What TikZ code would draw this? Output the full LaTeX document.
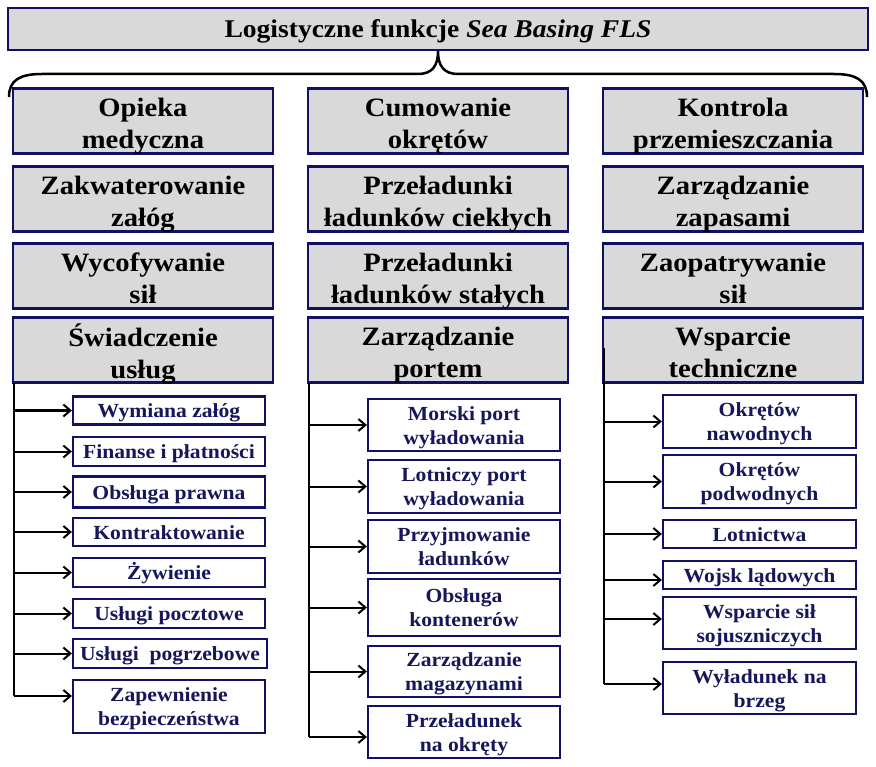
\documentclass[tikz,border=0pt]{standalone}
\usepackage{fontspec}
\setmainfont{Liberation Serif}[FakeStretch=1.08]
\usetikzlibrary{arrows.meta}
\definecolor{navy}{RGB}{16,16,100}
\definecolor{boxgray}{RGB}{217,217,217}
\definecolor{subtext}{RGB}{22,22,90}
\newcommand{\mtxt}[1]{\raisebox{-5.5pt}[\height][\depth]{\begin{tabular}{@{}c@{}}#1\end{tabular}}}
\newcommand{\stxt}[1]{\raisebox{-2.5pt}[\height][\depth]{\begin{tabular}{@{}c@{}}#1\end{tabular}}}
\newcommand{\ttxt}[1]{\raisebox{-3pt}[\height][\depth]{\begin{tabular}{@{}c@{}}#1\end{tabular}}}
\tikzset{
  titlebox/.style={draw=navy, line width=2.5pt, fill=boxgray, minimum width=860pt, minimum height=42pt, inner sep=0pt, align=center, font=\fontsize{25.5}{30}\selectfont\bfseries},
  mainbox/.style={draw=navy, line width=2.5pt, fill=boxgray, minimum width=260pt, minimum height=65pt, inner sep=0pt, align=center, font=\fontsize{26.5}{32}\selectfont\bfseries},
  subbox/.style={draw=navy, line width=2.2pt, fill=white, minimum width=192pt, inner sep=0pt, align=center, text=subtext, font=\fontsize{20}{24}\selectfont\bfseries},
  arr/.style={black, line width=2pt, -{Straight Barb[length=7pt,width=12pt]}},
  vline/.style={black, line width=2pt},
  bracestyle/.style={black, line width=2.5pt}
}
\begin{document}
\begin{tikzpicture}[x=1pt, y=-1pt]
\useasboundingbox (0,0) rectangle (876,767);
% title
\node[titlebox] (t) at (438,29) {\ttxt{Logistyczne funkcje \textit{Sea Basing FLS}}};
% brace
\draw[bracestyle] (9,97) .. controls (9,80) and (20,74) .. (42,74) -- (418,74)
  .. controls (432,74) and (438,66) .. (t.south)
  .. controls (438,66) and (444,74) .. (458,74) -- (834,74)
  .. controls (856,74) and (867,80) .. (867,97);
% main boxes column 1
\node[mainbox] (m11) at (143,121) {\mtxt{Opieka\\medyczna}};
\node[mainbox] (m12) at (143,199) {\mtxt{Zakwaterowanie\\załóg}};
\node[mainbox] (m13) at (143,276) {\mtxt{Wycofywanie\\sił}};
\node[mainbox] (m14) at (143,350) {\mtxt{Świadczenie\\usług}};
% column 2
\node[mainbox] (m21) at (438,121) {\mtxt{Cumowanie\\okrętów}};
\node[mainbox] (m22) at (438,199) {\mtxt{Przeładunki\\ładunków ciekłych}};
\node[mainbox] (m23) at (438,276) {\mtxt{Przeładunki\\ładunków stałych}};
\node[mainbox] (m24) at (438,350) {\mtxt{Zarządzanie\\portem}};
% column 3
\node[mainbox] (m31) at (733,121) {\mtxt{Kontrola\\przemieszczania}};
\node[mainbox] (m32) at (733,199) {\mtxt{Zarządzanie\\zapasami}};
\node[mainbox] (m33) at (733,276) {\mtxt{Zaopatrywanie\\sił}};
\node[mainbox] (m34) at (733,350) {\mtxt{Wsparcie\\techniczne}};
% sub boxes column 1
\node[subbox, minimum height=28pt] (a1) at (169,410.5) {\stxt{Wymiana załóg}};
\node[subbox, minimum height=29pt] (a2) at (169,451.5) {\stxt{Finanse i płatności}};
\node[subbox, minimum height=31pt] (a3) at (169,492) {\stxt{Obsługa prawna}};
\node[subbox, minimum height=28pt] (a4) at (169,532) {\stxt{Kontraktowanie}};
\node[subbox, minimum height=29pt] (a5) at (169,572.5) {\stxt{Żywienie}};
\node[subbox, minimum height=29pt] (a6) at (169,613.5) {\stxt{Usługi pocztowe}};
\node[subbox, minimum height=29pt, minimum width=194pt] (a7) at (170,653.5) {\stxt{Usługi\ \ pogrzebowe}};
\node[subbox, minimum height=53pt] (a8) at (169,706.5) {\stxt{Zapewnienie\\bezpieczeństwa}};
% sub boxes column 2
\node[subbox, minimum height=52pt] (b1) at (464,425) {\stxt{Morski port\\wyładowania}};
\node[subbox, minimum height=53pt] (b2) at (464,486.5) {\stxt{Lotniczy port\\wyładowania}};
\node[subbox, minimum height=53pt] (b3) at (464,546.5) {\stxt{Przyjmowanie\\ładunków}};
\node[subbox, minimum height=57pt] (b4) at (464,607.5) {\stxt{Obsługa\\kontenerów}};
\node[subbox, minimum height=51pt] (b5) at (464,671.5) {\stxt{Zarządzanie\\magazynami}};
\node[subbox, minimum height=52pt] (b6) at (464,732) {\stxt{Przeładunek\\na okręty}};
% sub boxes column 3
\node[subbox, minimum height=53pt, minimum width=193pt] (c1) at (759.5,421.5) {\stxt{Okrętów\\nawodnych}};
\node[subbox, minimum height=53pt, minimum width=193pt] (c2) at (759.5,481.5) {\stxt{Okrętów\\podwodnych}};
\node[subbox, minimum height=28pt, minimum width=193pt] (c3) at (759.5,534) {\stxt{Lotnictwa}};
\node[subbox, minimum height=28pt, minimum width=193pt] (c4) at (759.5,575) {\stxt{Wojsk lądowych}};
\node[subbox, minimum height=52pt, minimum width=193pt] (c5) at (759.5,623) {\stxt{Wsparcie sił\\sojuszniczych}};
\node[subbox, minimum height=52pt, minimum width=193pt] (c6) at (759.5,688) {\stxt{Wyładunek na\\brzeg}};
% arrow targets with offsets
\coordinate (a8in) at ([yshift=10.5pt]a8.west);
\coordinate (b6in) at ([yshift=-5pt]b6.west);
\coordinate (c4in) at ([yshift=-5pt]c4.west);
\coordinate (c5in) at ([yshift=4pt]c5.west);
\coordinate (c6in) at ([yshift=4pt]c6.west);
% vertical lines
\coordinate (v1) at (14,383);
\coordinate (v2) at (309,383);
\coordinate (v3) at (604,348);
\draw[vline] (v1) -- (v1 |- a8in);
\draw[vline] (v2) -- (v2 |- b6in);
\draw[vline] (v3) -- (v3 |- c6in);
% arrows column 1
\foreach \n in {a1,a2,a3,a4,a5,a6,a7}{\draw[arr] (v1 |- \n.west) -- (\n.west);}
\draw[arr] (v1 |- a8in) -- (a8in);
% arrows column 2
\foreach \n in {b1,b2,b3,b4,b5}{\draw[arr] (v2 |- \n.west) -- (\n.west);}
\draw[arr] (v2 |- b6in) -- (b6in);
% arrows column 3
\foreach \n in {c1,c2,c3}{\draw[arr] (v3 |- \n.west) -- (\n.west);}
\draw[arr] (v3 |- c4in) -- (c4in);
\draw[arr] (v3 |- c5in) -- (c5in);
\draw[arr] (v3 |- c6in) -- (c6in);
\end{tikzpicture}
\end{document}
